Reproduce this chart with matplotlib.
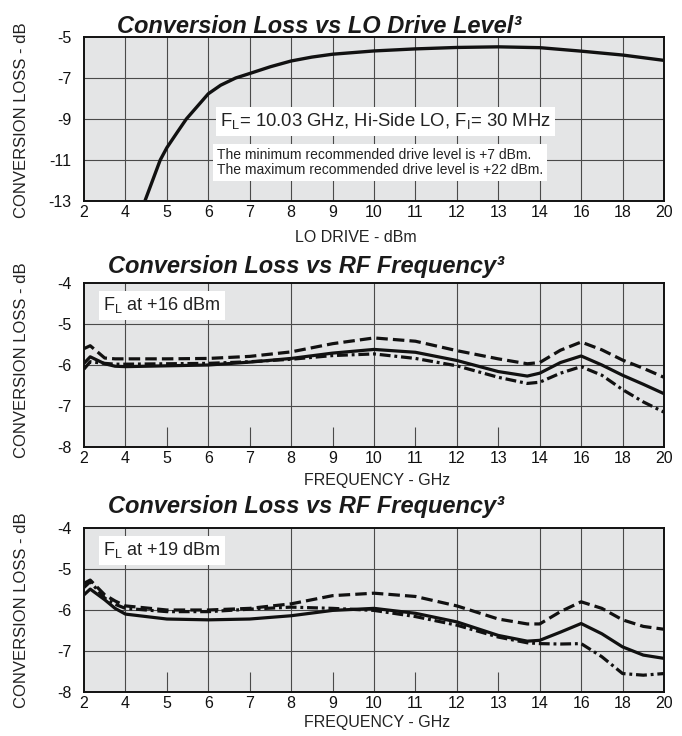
import numpy as np
import matplotlib
matplotlib.use('Agg')
import matplotlib.pyplot as plt

plt.rcParams['font.family'] = ['Liberation Sans', 'DejaVu Sans']
plt.rcParams['mathtext.fontset'] = 'custom'
plt.rcParams['mathtext.rm'] = 'Liberation Sans'
plt.rcParams['mathtext.it'] = 'Liberation Sans:italic'
plt.rcParams['mathtext.bf'] = 'Liberation Sans:bold'

W, H = 682, 736

# x axis labels (equally spaced on the chart)
x_ticks = [2, 4, 5, 6, 7, 8, 9, 10, 11, 12, 13, 14, 16, 18, 20]

# conversion loss vs LO drive
lo_drive = [4.47, 4.84, 5.0, 5.25, 5.47, 6.0, 6.3, 6.66, 7.0, 7.5, 8.0, 8.5, 9.0, 10, 11, 12, 13, 14, 16, 18, 20]
lo_loss = [-13.0, -11.0, -10.4, -9.65, -9.0, -7.77, -7.35, -7.0, -6.78, -6.45, -6.17, -5.98, -5.84,
           -5.68, -5.58, -5.51, -5.48, -5.52, -5.69, -5.88, -6.14]

# conversion loss vs RF frequency
freq = [2, 2.3, 3, 3.5, 4, 5, 6, 7, 8, 9, 10, 11, 12, 13, 13.7, 14, 15, 16, 17, 18, 19, 20]
rf16_solid = [-5.96, -5.80, -5.97, -6.03, -6.04, -6.02, -6.00, -5.93, -5.84, -5.71, -5.62, -5.69, -5.89,
              -6.16, -6.27, -6.20, -5.94, -5.78, -6.00, -6.25, -6.47, -6.70]
rf16_dash = [-5.60, -5.53, -5.83, -5.85, -5.85, -5.85, -5.84, -5.79, -5.68, -5.48, -5.34, -5.42, -5.65,
             -5.85, -5.97, -5.94, -5.64, -5.44, -5.63, -5.88, -6.08, -6.30]
rf16_dashdot = [-6.10, -5.92, -5.96, -5.98, -5.98, -5.97, -5.96, -5.92, -5.86, -5.77, -5.73, -5.84, -6.02,
                -6.30, -6.45, -6.42, -6.20, -6.04, -6.25, -6.60, -6.90, -7.15]
rf19_solid = [-5.63, -5.49, -5.75, -5.96, -6.10, -6.22, -6.24, -6.22, -6.14, -6.01, -5.96, -6.08, -6.29,
              -6.62, -6.76, -6.74, -6.54, -6.33, -6.58, -6.90, -7.10, -7.18]
rf19_dash = [-5.35, -5.27, -5.63, -5.78, -5.90, -6.00, -6.00, -5.96, -5.85, -5.65, -5.59, -5.67, -5.90,
             -6.22, -6.34, -6.34, -6.04, -5.80, -5.96, -6.24, -6.40, -6.47]
rf19_dashdot = [-5.45, -5.31, -5.71, -5.86, -5.96, -6.04, -6.04, -5.98, -5.93, -5.96, -6.01, -6.16, -6.37,
                -6.66, -6.80, -6.82, -6.83, -6.82, -7.14, -7.55, -7.59, -7.55]

pos = np.arange(len(x_ticks))
fwd = lambda x: np.interp(x, x_ticks, pos)
inv = lambda p: np.interp(p, pos, x_ticks)

bg = '#e4e5e6'
grid_c = '#4a4a4a'


def px_box(l, t, r, b):
    return [l / W, 1 - b / H, (r - l) / W, (b - t) / H]


def fx(px):
    return px / W


def fy(py):
    return 1 - py / H


fig = plt.figure(figsize=(W / 100, H / 100), dpi=100)


def setup(ax, ylim, yticks):
    ax.set_facecolor(bg)
    ax.set_xscale('function', functions=(fwd, inv))
    ax.set_xlim(2, 20)
    ax.set_ylim(*ylim)
    ax.set_xticks(x_ticks)
    ax.set_xticklabels([str(t) for t in x_ticks])
    ax.set_yticks(yticks)
    ax.set_yticklabels([str(t) for t in yticks])
    ax.tick_params(length=0, labelsize=11.5, colors='#111111')
    ax.tick_params(axis='x', pad=3)
    ax.tick_params(axis='y', pad=9)
    for s in ax.spines.values():
        s.set_linewidth(1.4)
        s.set_color('#111111')


# ---- panel 1
ax1 = fig.add_axes(px_box(84, 37, 664, 201))
setup(ax1, (-13, -5), [-5, -7, -9, -11, -13])
for t in x_ticks[1:-1]:
    ax1.axvline(t, color=grid_c, lw=0.8, zorder=1)
for t in [-7, -9, -11]:
    ax1.axhline(t, color=grid_c, lw=0.8, zorder=1)
ax1.plot(lo_drive, lo_loss, color='#111111', lw=2.4, zorder=3, solid_capstyle='butt')
ax1.text(0.2345, 0.487, r'$\mathrm{F_L}$= 10.03 GHz, Hi-Side LO, $\mathrm{F_I}$= 30 MHz',
         transform=ax1.transAxes, fontsize=13.3, va='center', ha='left', color='#222222', zorder=4,
         bbox=dict(facecolor='white', edgecolor='none', pad=3.2))
ax1.text(0.229, 0.235, 'The minimum recommended drive level is +7 dBm.\n'
         'The maximum recommended drive level is +22 dBm.',
         transform=ax1.transAxes, fontsize=10, va='center', ha='left', color='#222222', zorder=4,
         linespacing=1.1, bbox=dict(facecolor='white', edgecolor='none', pad=3))

# ---- panels 2 and 3
series = [(rf16_solid, rf16_dash, rf16_dashdot, r'$\mathrm{F_L}$ at +16 dBm'),
          (rf19_solid, rf19_dash, rf19_dashdot, r'$\mathrm{F_L}$ at +19 dBm')]
boxes = [(84, 283, 664, 447), (84, 528, 664, 692)]
axes = []
for (solid, dash, dashdot, lbl), b in zip(series, boxes):
    ax = fig.add_axes(px_box(*b))
    setup(ax, (-8, -4), [-4, -5, -6, -7, -8])
    for t in [4, 6, 8, 10, 12, 14, 16, 18]:
        ax.axvline(t, color=grid_c, lw=0.8, zorder=1)
    ax.vlines([5, 7, 9, 11, 13], -8, -7.5, color=grid_c, lw=0.8, zorder=1)
    for t in [-5, -6, -7]:
        ax.axhline(t, color=grid_c, lw=0.8, zorder=1)
    ax.plot(freq, solid, color='#111111', lw=2.3, zorder=3)
    ax.plot(freq, dash, color='#111111', lw=2.3, dashes=(3.6, 1.6), zorder=3)
    ax.plot(freq, dashdot, color='#111111', lw=2.3, dashes=(3.4, 1.2, 0.9, 1.2), zorder=3)
    ax.text(0.033, 0.865, lbl, transform=ax.transAxes, fontsize=13, va='center', ha='left',
            color='#222222', zorder=4, bbox=dict(facecolor='white', edgecolor='none', pad=3.3))
    axes.append(ax)

# titles and axis labels
title_kw = dict(fontsize=17, fontweight='bold', fontstyle='italic', color='#1a1a1a', va='baseline', ha='left')
fig.text(fx(117), fy(33), 'Conversion Loss vs LO Drive Level\u00b3', **title_kw)
fig.text(fx(108), fy(273), 'Conversion Loss vs RF Frequency\u00b3', **title_kw)
fig.text(fx(108), fy(513), 'Conversion Loss vs RF Frequency\u00b3', **title_kw)

lab_kw = dict(fontsize=11.5, color='#222222', ha='center', va='center')
fig.text(fx(356), fy(237), 'LO DRIVE - dBm', **lab_kw)
fig.text(fx(377), fy(481), 'FREQUENCY - GHz', **lab_kw)
fig.text(fx(377), fy(723), 'FREQUENCY - GHz', **lab_kw)
for cy in [120, 360, 610]:
    fig.text(fx(22), fy(cy), 'CONVERSION LOSS - dB', rotation=90, fontsize=12, color='#222222',
             ha='center', va='center')

fig.savefig('out.png', dpi=100, facecolor='white')
